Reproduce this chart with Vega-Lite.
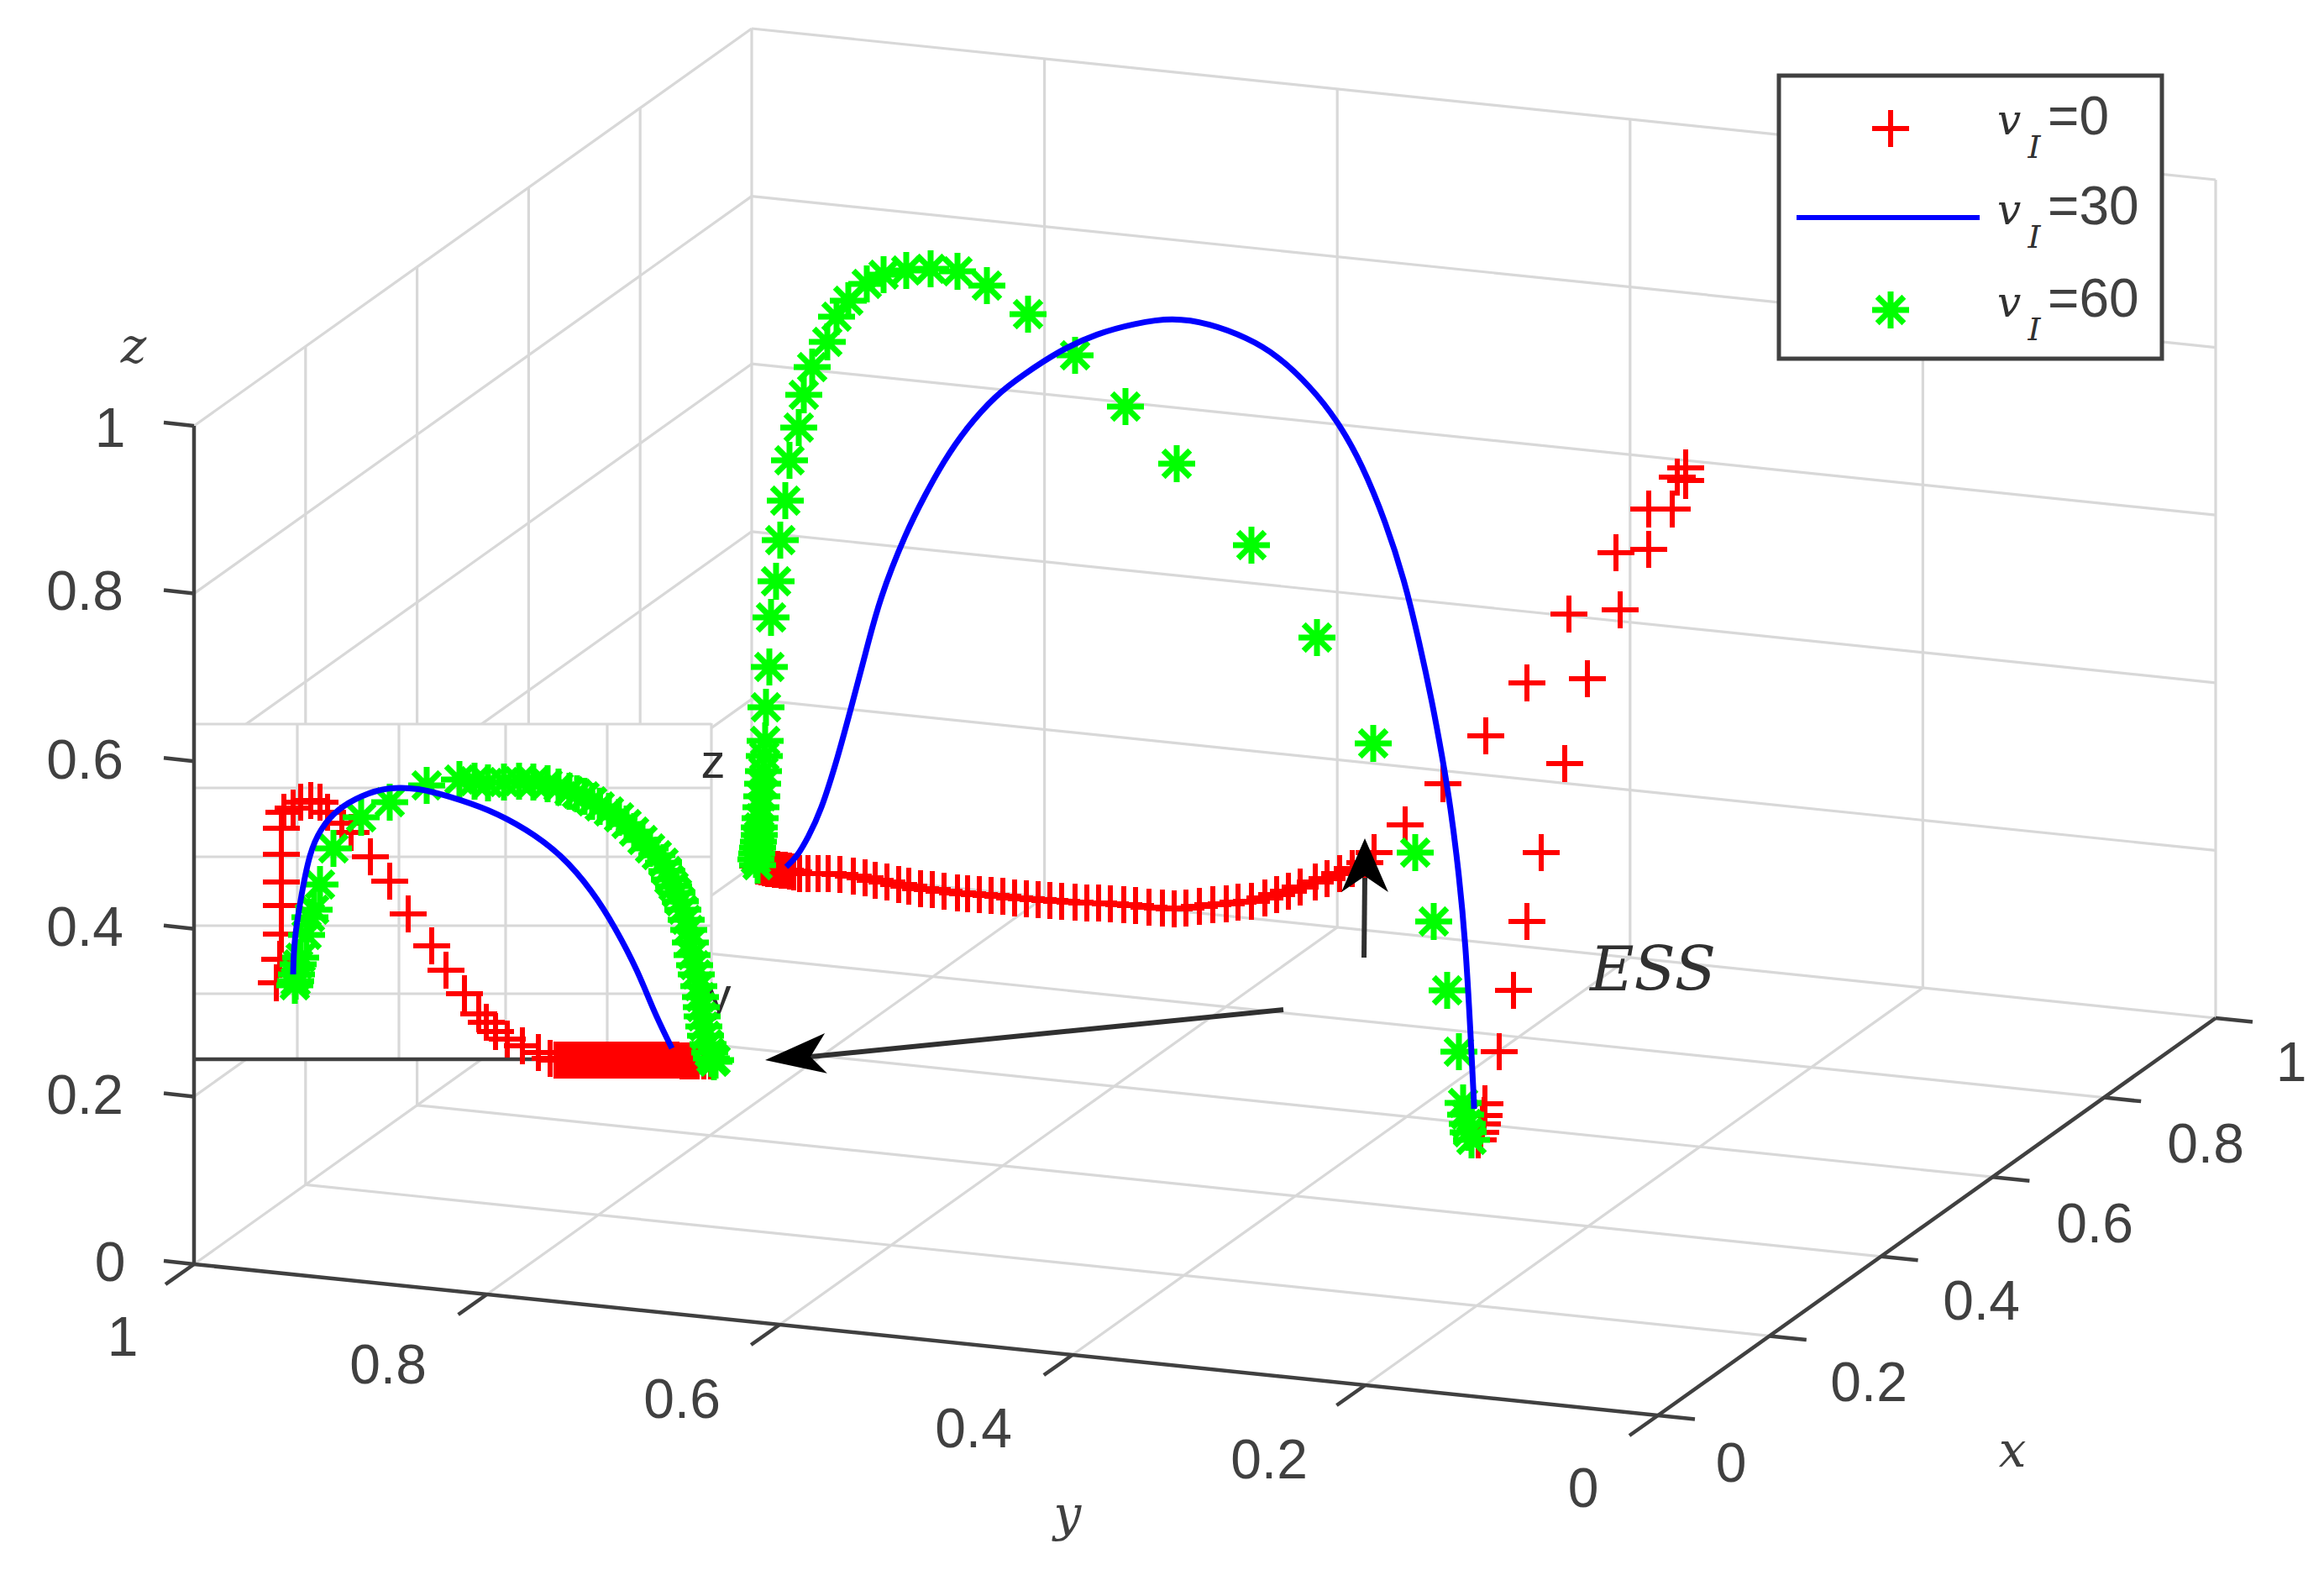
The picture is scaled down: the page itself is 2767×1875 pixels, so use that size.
{"$schema":"https://vega.github.io/schema/vega-lite/v6.json","width":2767,"height":1875,"padding":0,"autosize":{"type":"fit","contains":"padding"},"background":"white","config":{"view":{"stroke":null}},
"encoding":{"x":{"field":"x","type":"quantitative","scale":{"domain":[0,2767],"nice":false,"zero":false},"axis":null},"y":{"field":"y","type":"quantitative","scale":{"domain":[1875,0],"nice":false,"zero":false},"axis":null}},
"layer":[
{"data":{"values":[
{"x":579.6,"y":1541,"x2":1243.6,"y2":1068},{"x":928.2,"y":1577,"x2":1592.2,"y2":1104},{"x":1276.8,"y":1613,"x2":1940.8,"y2":1140},{"x":1625.4,"y":1649,"x2":2289.4,"y2":1176},{"x":231,"y":1505,"x2":895,"y2":1032},{"x":1974,"y":1685,"x2":2638,"y2":1212},
{"x":363.8,"y":1410.4,"x2":2106.8,"y2":1590.4},{"x":496.6,"y":1315.8,"x2":2239.6,"y2":1495.8},{"x":629.4,"y":1221.2,"x2":2372.4,"y2":1401.2},{"x":762.2,"y":1126.6,"x2":2505.2,"y2":1306.6},{"x":895,"y":1032,"x2":2638,"y2":1212},
{"x":895,"y":1032,"x2":895,"y2":34},{"x":1243.6,"y":1068,"x2":1243.6,"y2":70},{"x":1592.2,"y":1104,"x2":1592.2,"y2":106},{"x":1940.8,"y":1140,"x2":1940.8,"y2":142},{"x":2289.4,"y":1176,"x2":2289.4,"y2":178},{"x":2638,"y":1212,"x2":2638,"y2":214},
{"x":895,"y":832.4,"x2":2638,"y2":1012.4},{"x":895,"y":632.8,"x2":2638,"y2":812.8},{"x":895,"y":433.2,"x2":2638,"y2":613.2},{"x":895,"y":233.6,"x2":2638,"y2":413.6},{"x":895,"y":34,"x2":2638,"y2":214},
{"x":363.8,"y":1410.4,"x2":363.8,"y2":412.4},{"x":496.6,"y":1315.8,"x2":496.6,"y2":317.8},{"x":629.4,"y":1221.2,"x2":629.4,"y2":223.2},{"x":762.2,"y":1126.6,"x2":762.2,"y2":128.6},
{"x":231,"y":1305.4,"x2":895,"y2":832.4},{"x":231,"y":1105.8,"x2":895,"y2":632.8},{"x":231,"y":906.2,"x2":895,"y2":433.2},{"x":231,"y":706.6,"x2":895,"y2":233.6},{"x":231,"y":507,"x2":895,"y2":34}
]},"mark":{"type":"rule","color":"#d8d8d8","strokeWidth":3.2},"encoding":{"x2":{"field":"x2"},"y2":{"field":"y2"}}},
{"data":{"values":[{"x":231,"y":861,"x2":847,"y2":1262}]},"mark":{"type":"rect","color":"white"},"encoding":{"x2":{"field":"x2"},"y2":{"field":"y2"}}},
{"data":{"values":[
{"x":354,"y":861,"x2":354,"y2":1262},{"x":475,"y":861,"x2":475,"y2":1262},{"x":602,"y":861,"x2":602,"y2":1262},{"x":723,"y":861,"x2":723,"y2":1262},{"x":847,"y":861,"x2":847,"y2":1262},
{"x":231,"y":862,"x2":847,"y2":862},{"x":231,"y":938,"x2":847,"y2":938},{"x":231,"y":1020,"x2":847,"y2":1020},{"x":231,"y":1102,"x2":847,"y2":1102},{"x":231,"y":1183,"x2":847,"y2":1183}
]},"mark":{"type":"rule","color":"#d8d8d8","strokeWidth":3.2},"encoding":{"x2":{"field":"x2"},"y2":{"field":"y2"}}},
{"data":{"values":[
{"x":231,"y":1505,"x2":1974,"y2":1685},{"x":1974,"y":1685,"x2":2638,"y2":1212},{"x":231,"y":1505,"x2":231,"y2":507},{"x":231,"y":1261,"x2":640,"y2":1261},
{"x":231,"y":1505,"x2":197,"y2":1529},{"x":579.6,"y":1541,"x2":545.6,"y2":1565},{"x":928.2,"y":1577,"x2":894.2,"y2":1601},{"x":1276.8,"y":1613,"x2":1242.8,"y2":1637},{"x":1625.4,"y":1649,"x2":1591.4,"y2":1673},{"x":1974,"y":1685,"x2":1940,"y2":1709},
{"x":1974,"y":1685,"x2":2018,"y2":1689.5},{"x":2106.8,"y":1590.4,"x2":2150.8,"y2":1594.9},{"x":2239.6,"y":1495.8,"x2":2283.6,"y2":1500.3},{"x":2372.4,"y":1401.2,"x2":2416.4,"y2":1405.7},{"x":2505.2,"y":1306.6,"x2":2549.2,"y2":1311.1},{"x":2638,"y":1212,"x2":2682,"y2":1216.5},
{"x":231,"y":1505,"x2":195,"y2":1501},{"x":231,"y":1305.4,"x2":195,"y2":1301.4},{"x":231,"y":1105.8,"x2":195,"y2":1101.8},{"x":231,"y":906.2,"x2":195,"y2":902.2},{"x":231,"y":706.6,"x2":195,"y2":702.6},{"x":231,"y":507,"x2":195,"y2":503}
]},"mark":{"type":"rule","color":"#404040","strokeWidth":4.5},"encoding":{"x2":{"field":"x2"},"y2":{"field":"y2"}}},
{"data":{"values":[
{"x":131,"y":512,"t":"1"},{"x":101,"y":706,"t":"0.8"},{"x":101,"y":907,"t":"0.6"},{"x":101,"y":1106,"t":"0.4"},{"x":101,"y":1306,"t":"0.2"},{"x":131,"y":1505,"t":"0"},
{"x":146,"y":1594,"t":"1"},{"x":462,"y":1627,"t":"0.8"},{"x":812,"y":1668,"t":"0.6"},{"x":1159,"y":1703,"t":"0.4"},{"x":1511,"y":1740,"t":"0.2"},{"x":1885,"y":1774,"t":"0"},
{"x":2061,"y":1744,"t":"0"},{"x":2225,"y":1648,"t":"0.2"},{"x":2359,"y":1551,"t":"0.4"},{"x":2494,"y":1459,"t":"0.6"},{"x":2626,"y":1364,"t":"0.8"},{"x":2728,"y":1267,"t":"1"}
]},"mark":{"type":"text","font":"Liberation Sans","fontSize":66,"color":"#404040","align":"center","baseline":"middle"},"encoding":{"text":{"field":"t"}}},
{"data":{"values":[{"x":159,"y":415,"t":"z"},{"x":1271,"y":1805,"t":"y"},{"x":2396,"y":1729,"t":"x"}]},"mark":{"type":"text","font":"DejaVu Serif","fontStyle":"italic","fontSize":58,"color":"#404040","align":"center","baseline":"middle"},"encoding":{"text":{"field":"t"}}},
{"data":{"values":[{"x":849,"y":909,"t":"z"},{"x":856,"y":1187,"t":"y"}]},"mark":{"type":"text","font":"Liberation Sans","fontSize":58,"color":"#303030","align":"center","baseline":"middle"},"encoding":{"text":{"field":"t"}}},
{"data":{"values":[
{"x":1768,"y":1314},{"x":1767,"y":1328},{"x":1765,"y":1338},{"x":1763,"y":1348},{"x":1760,"y":1357},{"x":1785,"y":1252},{"x":1802,"y":1179},{"x":1818,"y":1097},{"x":1835,"y":1015},{"x":1863,"y":909},{"x":1890,"y":808},{"x":1929,"y":726},{"x":1963,"y":654},{"x":1991,"y":606},{"x":2007,"y":572},{"x":2007,"y":557},{"x":1997,"y":568},{"x":1963,"y":606},{"x":1924,"y":658},{"x":1868,"y":731},{"x":1818,"y":813},{"x":1769,"y":876},{"x":1718,"y":933},{"x":1673,"y":982},{"x":1636,"y":1015},
{"x":1625,"y":1027},{"x":1610,"y":1034},{"x":1595,"y":1040},{"x":1580,"y":1046},{"x":1566,"y":1050},{"x":1548,"y":1056},{"x":1534,"y":1061},{"x":1520,"y":1065},{"x":1506,"y":1069},{"x":1490,"y":1073},{"x":1474,"y":1074},{"x":1460,"y":1076},{"x":1444,"y":1077},{"x":1428,"y":1079},{"x":1412,"y":1081},{"x":1398,"y":1082},{"x":1384,"y":1081},{"x":1368,"y":1080},{"x":1352,"y":1078},{"x":1338,"y":1077},{"x":1322,"y":1076},{"x":1308,"y":1075},{"x":1294,"y":1075},{"x":1280,"y":1074},{"x":1264,"y":1073},{"x":1250,"y":1072},{"x":1236,"y":1071},{"x":1222,"y":1070},{"x":1208,"y":1069},{"x":1194,"y":1067},{"x":1180,"y":1066},{"x":1166,"y":1065},{"x":1152,"y":1064},{"x":1140,"y":1063},{"x":1124,"y":1061},{"x":1110,"y":1059},{"x":1096,"y":1058},{"x":1082,"y":1055},{"x":1070,"y":1053},{"x":1056,"y":1050},{"x":1042,"y":1048},{"x":1030,"y":1045},{"x":1016,"y":1043},{"x":1000,"y":1041},{"x":986,"y":1040},{"x":974,"y":1040},{"x":962,"y":1040},{"x":952,"y":1040},
{"x":945,"y":1038},{"x":940,"y":1037},{"x":935,"y":1036},{"x":930,"y":1036},{"x":926,"y":1035},{"x":922,"y":1035},{"x":918,"y":1034},{"x":914,"y":1034},{"x":910,"y":1033},{"x":906,"y":1032},{"x":902,"y":1031},
{"x":329,"y":1170},{"x":333,"y":1142},{"x":335,"y":1112},{"x":335,"y":1078},{"x":335,"y":1050},{"x":335,"y":1017},{"x":335,"y":986},{"x":338,"y":967},{"x":349,"y":962},{"x":358,"y":955},{"x":370,"y":953},{"x":381,"y":955},{"x":390,"y":967},{"x":407,"y":980},{"x":418,"y":991},{"x":441,"y":1020},{"x":464,"y":1049},{"x":486,"y":1088},{"x":514,"y":1126},{"x":531,"y":1155},{"x":553,"y":1183},{"x":570,"y":1207},{"x":579,"y":1217},{"x":590,"y":1228},{"x":604,"y":1237},{"x":622,"y":1245},{"x":641,"y":1253},{"x":655,"y":1260},{"x":662,"y":1262},{"x":668,"y":1262},{"x":674,"y":1262},{"x":680,"y":1262},{"x":686,"y":1262},{"x":692,"y":1262},{"x":698,"y":1262},{"x":704,"y":1262},{"x":710,"y":1262},{"x":716,"y":1262},{"x":722,"y":1262},{"x":728,"y":1262},{"x":734,"y":1262},{"x":740,"y":1262},{"x":746,"y":1262},{"x":752,"y":1262},{"x":758,"y":1262},{"x":764,"y":1262},{"x":770,"y":1262},{"x":776,"y":1262},{"x":782,"y":1262},{"x":788,"y":1262},{"x":794,"y":1262},{"x":800,"y":1262},{"x":806,"y":1262},{"x":812,"y":1263},{"x":818,"y":1263},{"x":824,"y":1263},{"x":830,"y":1263},{"x":838,"y":1263},{"x":846,"y":1263}
]},"mark":{"type":"point","shape":"M-1,0L1,0M0,-1L0,1","size":1936,"filled":false,"opacity":1,"color":"#ff0000","strokeWidth":6}},
{"data":{"values":[
{"x":1175,"y":340},{"x":1224,"y":374},{"x":1280,"y":423},{"x":1340,"y":484},{"x":1401,"y":552},{"x":1490,"y":649},{"x":1568,"y":759},{"x":1635,"y":885},{"x":1685,"y":1015},{"x":1707,"y":1097},{"x":1723,"y":1179},{"x":1737,"y":1252},{"x":1742,"y":1313},{"x":1745,"y":1327},{"x":1747,"y":1338},{"x":1748,"y":1348},{"x":1752,"y":1357},
{"x":1140,"y":323},{"x":1108,"y":320},{"x":1079,"y":322},{"x":1052,"y":327},{"x":1032,"y":338},{"x":1010,"y":358},{"x":996,"y":377},{"x":985,"y":407},{"x":967,"y":437},{"x":957,"y":470},{"x":951,"y":509},{"x":940,"y":548},{"x":935,"y":596},{"x":929,"y":643},{"x":924,"y":692},{"x":918,"y":735},{"x":916,"y":794},{"x":912,"y":842},{"x":911,"y":882},{"x":910,"y":900},{"x":909,"y":918},{"x":908,"y":933},{"x":907,"y":948},{"x":906,"y":961},{"x":905,"y":974},{"x":904,"y":985},{"x":904,"y":994},{"x":903,"y":1002},{"x":902,"y":1009},{"x":901,"y":1016},{"x":900,"y":1023},{"x":902,"y":1030},
{"x":351,"y":1173},{"x":352,"y":1168},{"x":353,"y":1160},{"x":355,"y":1148},{"x":358,"y":1140},{"x":365,"y":1113},{"x":369,"y":1092},{"x":374,"y":1083},{"x":381,"y":1053},{"x":397,"y":1010},{"x":430,"y":973},{"x":464,"y":955},{"x":508,"y":935},{"x":547,"y":928},{"x":565,"y":930},{"x":581,"y":932},{"x":600,"y":931},{"x":618,"y":930},{"x":635,"y":931},{"x":652,"y":933},{"x":665,"y":937},{"x":678,"y":942},{"x":687,"y":945},{"x":696,"y":948},{"x":705,"y":954},{"x":714,"y":960},{"x":725,"y":966},{"x":737,"y":973},{"x":746,"y":981},{"x":755,"y":990},{"x":765,"y":1000},{"x":774,"y":1010},{"x":782,"y":1018},{"x":790,"y":1027},{"x":794,"y":1037},{"x":797,"y":1047},{"x":802,"y":1055},{"x":806,"y":1063},{"x":810,"y":1073},{"x":813,"y":1083},{"x":817,"y":1095},{"x":820,"y":1107},{"x":822,"y":1122},{"x":824,"y":1137},{"x":827,"y":1149},{"x":829,"y":1160},{"x":832,"y":1174},{"x":834,"y":1187},{"x":835,"y":1199},{"x":836,"y":1210},{"x":838,"y":1222},{"x":840,"y":1233},{"x":843,"y":1243},{"x":845,"y":1253},{"x":847,"y":1260},{"x":850,"y":1264},{"x":852,"y":1262}
]},"mark":{"type":"point","shape":"M-1,0L1,0M0,-1L0,1M-.72,-.72L.72,.72M-.72,.72L.72,-.72","size":1936,"filled":false,"opacity":1,"color":"#00ff00","strokeWidth":7}},
{"data":{"values":[
{"x":936,"y":1032},{"x":949,"y":1020},{"x":962,"y":997},{"x":977,"y":967},{"x":998,"y":900},{"x":1014,"y":840},{"x":1030,"y":780},{"x":1047,"y":713},{"x":1079,"y":633},{"x":1101,"y":590},{"x":1123,"y":550},{"x":1150,"y":510},{"x":1186,"y":470},{"x":1217,"y":447},{"x":1262,"y":417},{"x":1306,"y":397},{"x":1351,"y":385},{"x":1396,"y":378},{"x":1440,"y":385},{"x":1485,"y":402},{"x":1521,"y":423},{"x":1560,"y":460},{"x":1592,"y":500},{"x":1622,"y":553},{"x":1650,"y":622},{"x":1672,"y":690},{"x":1690,"y":765},{"x":1705,"y":835},{"x":1717,"y":900},{"x":1727,"y":960},{"x":1737,"y":1040},{"x":1745,"y":1123},{"x":1751,"y":1233},{"x":1755,"y":1313},{"x":1755,"y":1320}
]},"mark":{"type":"line","color":"#0000ff","strokeWidth":7,"interpolate":"basis"},"encoding":{"order":{"value":null}}},
{"data":{"values":[
{"x":349,"y":1160},{"x":350,"y":1120},{"x":358,"y":1070},{"x":368,"y":1017},{"x":381,"y":987},{"x":402,"y":963},{"x":430,"y":947},{"x":462,"y":937},{"x":498,"y":938},{"x":535,"y":948},{"x":581,"y":963},{"x":627,"y":987},{"x":668,"y":1017},{"x":705,"y":1060},{"x":733,"y":1105},{"x":760,"y":1157},{"x":778,"y":1203},{"x":797,"y":1242},{"x":800,"y":1248}
]},"mark":{"type":"line","color":"#0000ff","strokeWidth":7,"interpolate":"basis"},"encoding":{"order":{"value":null}}},
{"data":{"values":[{"x":1624,"y":1140,"x2":1625,"y2":1045},{"x":965,"y":1258,"x2":1528,"y2":1202}]},"mark":{"type":"rule","color":"#303030","strokeWidth":6},"encoding":{"x2":{"field":"x2"},"y2":{"field":"y2"}}},
{"data":{"values":[{"x":1625,"y":1043}]},"mark":{"type":"point","shape":"M0,-1L.62,.42L0,0L-.62,.42Z","size":8100,"filled":true,"opacity":1,"color":"#000000"}},
{"data":{"values":[{"x":965,"y":1258}]},"mark":{"type":"point","shape":"M-1.2,.09L.38,-.62L0,0L.44,.44Z","size":8100,"filled":true,"opacity":1,"color":"#000000"}},
{"data":{"values":[{"x":1968,"y":1157,"t":"ESS"}]},"mark":{"type":"text","font":"DejaVu Serif","fontStyle":"italic","fontSize":72,"color":"#303030","align":"center","baseline":"middle"},"encoding":{"text":{"field":"t"}}},
{"data":{"values":[{"x":2118,"y":90,"x2":2574,"y2":427}]},"mark":{"type":"rect","fill":"white","stroke":"#404040","strokeWidth":5},"encoding":{"x2":{"field":"x2"},"y2":{"field":"y2"}}},
{"data":{"values":[{"x":2251,"y":153}]},"mark":{"type":"point","shape":"M-1,0L1,0M0,-1L0,1","size":1936,"filled":false,"opacity":1,"color":"#ff0000","strokeWidth":6}},
{"data":{"values":[{"x":2139,"y":259,"x2":2357,"y2":259}]},"mark":{"type":"rule","color":"#0000ff","strokeWidth":6},"encoding":{"x2":{"field":"x2"},"y2":{"field":"y2"}}},
{"data":{"values":[{"x":2251,"y":369}]},"mark":{"type":"point","shape":"M-1,0L1,0M0,-1L0,1M-.72,-.72L.72,.72M-.72,.72L.72,-.72","size":1936,"filled":false,"opacity":1,"color":"#00ff00","strokeWidth":7}},
{"data":{"values":[{"x":2392,"y":160,"t":"v"},{"x":2392,"y":267,"t":"v"},{"x":2392,"y":377,"t":"v"}]},"mark":{"type":"text","font":"DejaVu Serif","fontStyle":"italic","fontSize":50,"color":"#303030","align":"center","baseline":"alphabetic"},"encoding":{"text":{"field":"t"}}},
{"data":{"values":[{"x":2422,"y":188,"t":"I"},{"x":2422,"y":295,"t":"I"},{"x":2422,"y":405,"t":"I"}]},"mark":{"type":"text","font":"DejaVu Serif","fontStyle":"italic","fontSize":38,"color":"#303030","align":"center","baseline":"alphabetic"},"encoding":{"text":{"field":"t"}}},
{"data":{"values":[{"x":2438,"y":160,"t":"=0"},{"x":2438,"y":267,"t":"=30"},{"x":2438,"y":377,"t":"=60"}]},"mark":{"type":"text","font":"Liberation Sans","fontSize":64,"color":"#404040","align":"left","baseline":"alphabetic"},"encoding":{"text":{"field":"t"}}}
]}
